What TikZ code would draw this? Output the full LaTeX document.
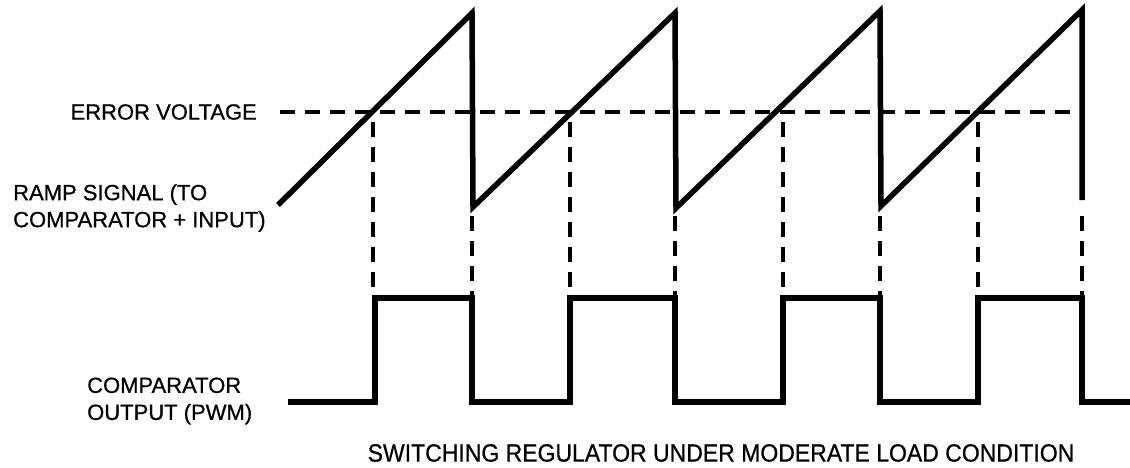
\documentclass[tikz,border=0pt]{standalone}
\usepackage{fontspec}
\setmainfont{Liberation Sans}[FakeBold=0.7]
\usepackage{tikz}
\usetikzlibrary{positioning,calc}

\begin{document}
\begin{tikzpicture}[x=1pt,y=-1pt,
  lbl/.style={inner sep=0pt,align=left,font=\fontsize{22}{27}\selectfont},
  wave/.style={line width=5.5pt},
  guide/.style={line width=3.2pt,dash pattern=on 15pt off 10pt}]
  \useasboundingbox (0,0) rectangle (1130,467);
  \node[lbl,anchor=east] (err) at (257,112) {ERROR VOLTAGE};
  \node[lbl,anchor=west] (ramp) at (13,208) {RAMP SIGNAL (TO\\COMPARATOR + INPUT)};
  \node[lbl,anchor=west] (pwm) at (87,401) {COMPARATOR\\OUTPUT (PWM)};
  \node[inner sep=0pt,xscale=0.92,font=\fontsize{25}{28}\selectfont] (title) at (721,453) {SWITCHING REGULATOR UNDER MODERATE LOAD CONDITION};
  \draw[guide] (280,112) -- (1073,112);
  \foreach \xc in {373,570,783,978}
    \draw[guide] (\xc,122) -- (\xc,296);
  \foreach \xf in {472,675,880,1082}
    \draw[guide] (\xf,216) -- (\xf,296);
  \draw[wave] (278,205) -- (472,13) -- (473,207) -- (675,13) -- (676,208)
    -- (880,11) -- (881,206) -- (1082,10) -- (1082,200);
  \draw[wave] (288,402) -- (375,402) -- (375,298) -- (472,298) -- (472,402)
    -- (570,402) -- (570,298) -- (675,298) -- (675,402) -- (783,402) -- (783,298)
    -- (880,298) -- (880,402) -- (978,402) -- (978,298) -- (1082,298)
    -- (1082,402) -- (1130,402);
\end{tikzpicture}
\end{document}
